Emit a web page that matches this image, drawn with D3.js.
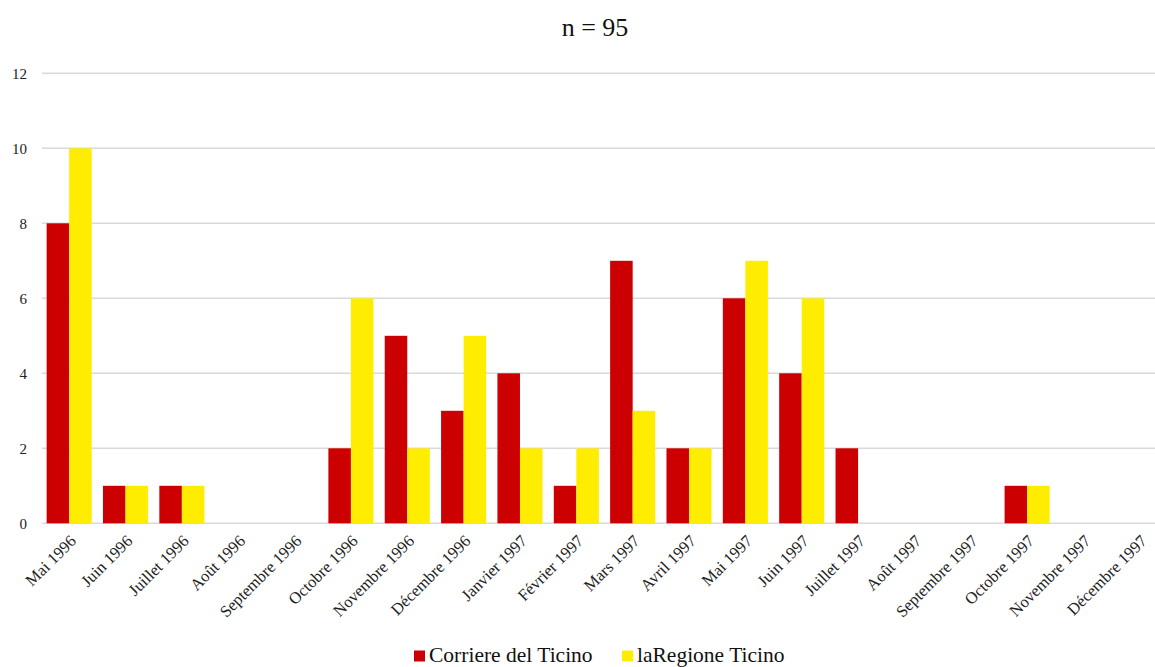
<!DOCTYPE html>
<html>
<head>
<meta charset="utf-8">
<script src="https://cdn.jsdelivr.net/npm/d3@7"></script>
<style>
  html, body { margin: 0; padding: 0; background: #fff; overflow: hidden; }
  svg { display: block; font-family: "Liberation Serif", "Times New Roman", serif; }
</style>
</head>
<body>
<svg id="chart" width="1155" height="667"></svg>
<script>
const categories = ["Mai 1996","Juin 1996","Juillet 1996","Août 1996","Septembre 1996","Octobre 1996","Novembre 1996","Décembre 1996","Janvier 1997","Février 1997","Mars 1997","Avril 1997","Mai 1997","Juin 1997","Juillet 1997","Août 1997","Septembre 1997","Octobre 1997","Novembre 1997","Décembre 1997"];
const seriesNames = ["Corriere del Ticino", "laRegione Ticino"];
const corriere = [8,1,1,0,0,2,5,3,4,1,7,2,6,4,2,0,0,1,0,0];
const laregione = [10,1,1,0,0,6,2,5,2,2,3,2,7,6,0,0,0,1,0,0];
const yTicks = [0,2,4,6,8,10,12];
const title = "n = 95";
const colors = ["#CC0000", "#FFED00"];

const svg = d3.select("#chart");
const x0 = d3.scaleBand().domain(categories).range([41, 1168]).paddingInner(0.2).paddingOuter(0.1);
const x1 = d3.scaleBand().domain(seriesNames).range([0, x0.bandwidth()]);
const y = d3.scaleLinear().domain([0, 12]).range([523.3, 73.3]);

// gridlines
svg.append("g").selectAll("line").data(yTicks).join("line")
  .attr("x1", 42).attr("x2", 1155)
  .attr("y1", d => y(d)).attr("y2", d => y(d))
  .attr("stroke", "#d9d9d9").attr("stroke-width", 1.5);

// y labels
svg.append("g").selectAll("text").data(yTicks).join("text")
  .attr("x", 27).attr("y", d => y(d)).attr("dy", "0.35em")
  .attr("text-anchor", "end").attr("font-size", 15).attr("fill", "#222")
  .text(d => d);

// bars
const series = [corriere, laregione];
const g = svg.append("g");
seriesNames.forEach((name, si) => {
  g.append("g").attr("fill", colors[si]).selectAll("rect")
    .data(categories.map((c, i) => ({c, v: series[si][i]})).filter(d => d.v > 0))
    .join("rect")
    .attr("x", d => x0(d.c) + x1(name))
    .attr("width", x1.bandwidth())
    .attr("y", d => y(d.v))
    .attr("height", d => y(0) - y(d.v));
});

// x labels
svg.append("g").selectAll("text").data(categories).join("text")
  .attr("transform", d => `translate(${x0(d) + x0.bandwidth()/2 + 8},${542}) rotate(-45)`)
  .attr("text-anchor", "end").attr("font-size", 16.5).attr("fill", "#222")
  .text(d => d);

// title
svg.append("text").attr("x", 595).attr("y", 36).attr("text-anchor", "middle")
  .attr("font-size", 26).attr("fill", "#111").text(title);

// legend
const legendX = [414, 622];
seriesNames.forEach((name, si) => {
  svg.append("rect").attr("x", legendX[si]).attr("y", 650.5).attr("width", 11).attr("height", 11).attr("fill", colors[si]);
  svg.append("text").attr("x", legendX[si] + 15).attr("y", 661.5).attr("font-size", 21.5).attr("fill", "#111").text(name);
});
</script>
</body>
</html>
